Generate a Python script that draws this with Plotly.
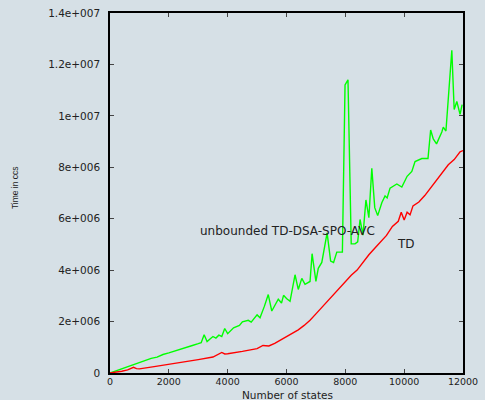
import plotly.graph_objects as go

# Number of states and measured running time (ccs) for each algorithm
td_states = [0, 200, 400, 600, 800, 900, 1000, 1500, 2000, 2500, 3000, 3500, 3700, 3800,
             3900, 4000, 4500, 5000, 5200, 5400, 5600, 5800, 6000, 6200, 6400, 6600, 6800,
             7000, 7200, 7400, 7600, 7800, 8000, 8200, 8400, 8600, 8800, 9000, 9200, 9400,
             9600, 9800, 9900, 10000, 10100, 10200, 10300, 10500, 10700, 10900, 11100,
             11300, 11500, 11700, 11900, 12000]
td_time = [0, 0.03e6, 0.07e6, 0.12e6, 0.22e6, 0.17e6, 0.16e6, 0.25e6, 0.33e6, 0.42e6,
           0.52e6, 0.62e6, 0.72e6, 0.80e6, 0.74e6, 0.75e6, 0.84e6, 0.95e6, 1.07e6, 1.05e6,
           1.15e6, 1.28e6, 1.40e6, 1.52e6, 1.68e6, 1.85e6, 2.05e6, 2.30e6, 2.55e6, 2.80e6,
           3.05e6, 3.30e6, 3.55e6, 3.80e6, 4.00e6, 4.30e6, 4.60e6, 4.85e6, 5.10e6, 5.35e6,
           5.70e6, 5.90e6, 6.25e6, 5.95e6, 6.25e6, 6.15e6, 6.50e6, 6.65e6, 6.90e6, 7.20e6,
           7.50e6, 7.80e6, 8.10e6, 8.30e6, 8.60e6, 8.65e6]

ub_states = [0, 200, 400, 600, 800, 1000, 1200, 1400, 1600, 1800, 2000, 2200, 2400, 2600,
             2800, 3000, 3100, 3200, 3300, 3400, 3500, 3600, 3700, 3800, 3900, 4000, 4200,
             4400, 4500, 4700, 4800, 5000, 5100, 5250, 5380, 5500, 5720, 5830, 5900, 6000,
             6120, 6290, 6400, 6520, 6630, 6800, 6870, 7000, 7080, 7200, 7380, 7500, 7600,
             7710, 7900, 7990, 8090, 8200, 8330, 8420, 8500, 8600, 8700, 8800, 8900, 9000,
             9100, 9240, 9350, 9420, 9520, 9750, 9920, 10100, 10260, 10370, 10600, 10810,
             10900, 10990, 11100, 11280, 11330, 11420, 11520, 11620, 11700, 11790, 11900,
             11970]
ub_time = [0, 0.08e6, 0.17e6, 0.25e6, 0.35e6, 0.43e6, 0.48e6, 0.57e6, 0.62e6, 0.72e6,
           0.78e6, 0.86e6, 0.94e6, 1.00e6, 1.07e6, 1.14e6, 1.18e6, 1.49e6, 1.22e6, 1.32e6,
           1.42e6, 1.36e6, 1.47e6, 1.42e6, 1.73e6, 1.53e6, 1.76e6, 1.85e6, 1.99e6, 2.05e6,
           1.98e6, 2.26e6, 2.15e6, 2.60e6, 3.05e6, 2.41e6, 2.87e6, 2.72e6, 3.02e6, 2.90e6,
           2.79e6, 3.82e6, 3.25e6, 3.68e6, 3.45e6, 3.56e6, 4.64e6, 3.56e6, 4.07e6, 4.30e6,
           5.45e6, 4.35e6, 4.30e6, 4.70e6, 4.70e6, 11.2e6, 11.4e6, 5.02e6, 5.02e6, 5.10e6,
           5.97e6, 5.36e6, 6.73e6, 6.04e6, 7.96e6, 6.43e6, 6.12e6, 6.62e6, 6.89e6, 6.81e6,
           7.19e6, 7.35e6, 7.23e6, 7.65e6, 7.84e6, 8.22e6, 8.34e6, 8.34e6, 9.45e6, 9.10e6,
           8.91e6, 9.37e6, 9.56e6, 9.41e6, 10.94e6, 12.55e6, 10.25e6, 10.56e6, 10.06e6,
           10.44e6]

x_ticks = [0, 2000, 4000, 6000, 8000, 10000, 12000]
y_ticks = [0, 2e6, 4e6, 6e6, 8e6, 10e6, 12e6, 14e6]
y_tick_text = ["0", "2e+006", "4e+006", "6e+006", "8e+006", "1e+007", "1.2e+007", "1.4e+007"]

bg = "#d6e0e6"
font_main = "DejaVu Sans, Verdana, sans-serif"
text_color = "#222222"

# pixel layout of the figure
W, H = 485, 400
L, R, T, B = 110, 22, 7, 27
pw, ph = W - L - R, H - T - B


def to_paper(px, py):
    """Convert pixel coordinates (from top-left) into paper coordinates."""
    return (px - L) / pw, 1 - (py - T) / ph


fig = go.Figure()
fig.add_trace(go.Scatter(x=ub_states, y=ub_time, mode="lines",
                         line=dict(color="#00ff00", width=1.4),
                         name="unbounded TD-DSA-SPO-AVC"))
fig.add_trace(go.Scatter(x=td_states, y=td_time, mode="lines",
                         line=dict(color="#ff0000", width=1.4), name="TD"))

axis_common = dict(showgrid=False, zeroline=False, showline=True, linecolor="black",
                   linewidth=1.5, mirror="ticks", ticks="inside", ticklen=4,
                   tickcolor="#444444", tickwidth=1)

fig.update_xaxes(range=[0, 12000], tickvals=x_ticks, ticktext=[str(v) for v in x_ticks],
                 ticklabelstandoff=-1,
                 tickfont=dict(family=font_main, size=9.5, color=text_color),
                 **axis_common)
fig.update_yaxes(range=[0, 14e6], tickvals=y_ticks, ticktext=y_tick_text,
                 ticklabelstandoff=6,
                 tickfont=dict(family=font_main, size=10.5, color=text_color),
                 **axis_common)

fig.add_annotation(x=2990, y=5.51e6, xref="x", yref="y", text="unbounded TD-DSA-SPO-AVC",
                   showarrow=False, xanchor="left", yanchor="middle",
                   font=dict(family=font_main, size=12, color=text_color))
fig.add_annotation(x=9690, y=5.01e6, xref="x", yref="y", text="TD",
                   showarrow=False, xanchor="left", yanchor="middle",
                   font=dict(family=font_main, size=12, color=text_color))

tx, ty = to_paper(287, 395)
fig.add_annotation(x=tx, y=ty, xref="paper", yref="paper", text="Number of states",
                   showarrow=False, xanchor="center", yanchor="middle",
                   font=dict(family=font_main, size=10.5, color=text_color))
tx, ty = to_paper(15, 185)
fig.add_annotation(x=tx, y=ty, xref="paper", yref="paper", text="Time in ccs",
                   showarrow=False, textangle=-90, xanchor="center", yanchor="middle",
                   font=dict(family="Liberation Sans Narrow, Liberation Sans, sans-serif",
                             size=8.5, color=text_color))

fig.update_layout(width=W, height=H, margin=dict(l=L, r=R, t=T, b=B),
                  paper_bgcolor=bg, plot_bgcolor=bg, showlegend=False)

fig.write_html("out.html")
